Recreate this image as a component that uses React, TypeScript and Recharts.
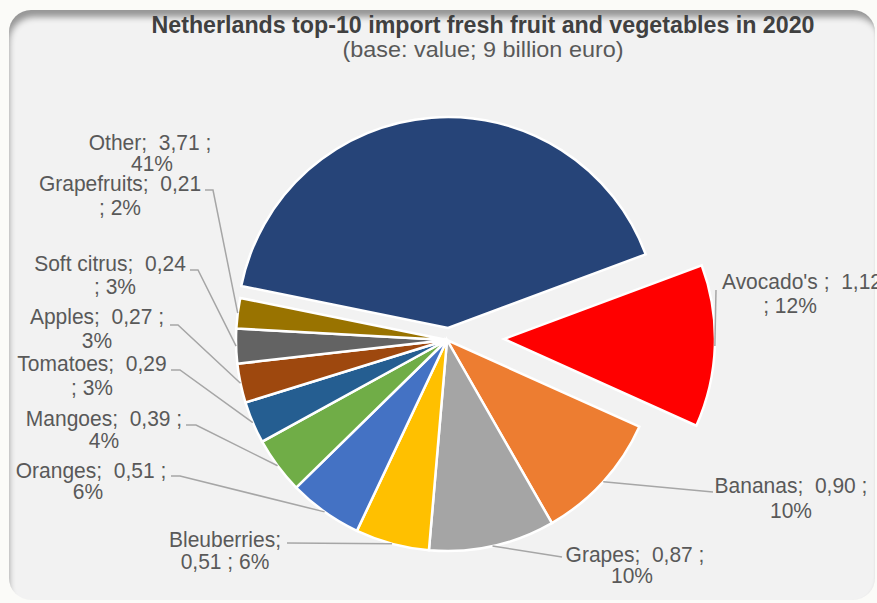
import { Cell, Pie, PieChart } from "recharts";

const names = [
  "Other",
  "Avocado's",
  "Bananas",
  "Grapes",
  "Bleuberries",
  "Oranges",
  "Mangoes",
  "Tomatoes",
  "Apples",
  "Soft citrus",
  "Grapefruits",
];
const values = [3.71, 1.12, 0.9, 0.87, 0.51, 0.51, 0.39, 0.29, 0.27, 0.24, 0.21];
const colors = [
  "#264478",
  "#ff0000",
  "#ed7d31",
  "#a5a5a5",
  "#ffc000",
  "#4472c4",
  "#70ad47",
  "#255e91",
  "#9e480e",
  "#636363",
  "#997300",
];

const data = names.map((name, i) => ({ name, value: values[i] }));

// Label placement as in the Excel original (manually dragged labels).
// wrap: where the label text breaks onto its second line
type Wrap = "pct" | "semi" | "value";
const labelLayout: Record<
  string,
  { x: number; y: number; y2: number; x2?: number; wrap: Wrap; lead?: number[][] }
> = {
  Other: { x: 150, y: 150, y2: 171, x2: 152, wrap: "pct" },
  Grapefruits: { x: 120, y: 191, y2: 215, wrap: "semi", lead: [[205, 190], [213, 190]] },
  "Soft citrus": { x: 110, y: 271, y2: 294, x2: 115, wrap: "semi", lead: [[190, 270], [198, 270]] },
  Apples: { x: 97, y: 324, y2: 348, wrap: "pct", lead: [[170, 325], [178, 325]] },
  Tomatoes: { x: 92, y: 371, y2: 395, wrap: "semi", lead: [[171, 370], [180, 370]] },
  Mangoes: { x: 104, y: 426, y2: 448, wrap: "pct", lead: [[186, 425], [196, 425]] },
  Oranges: { x: 91, y: 478, y2: 499, x2: 88, wrap: "pct", lead: [[171, 476], [180, 476]] },
  Bleuberries: { x: 225, y: 547, y2: 569, wrap: "value", lead: [[287, 543]] },
  Grapes: { x: 635, y: 562, y2: 583, x2: 632, wrap: "pct", lead: [[562, 557]] },
  Bananas: { x: 791, y: 493, y2: 518, wrap: "pct", lead: [[713, 492]] },
  "Avocado's": { x: 802, y: 289, y2: 313, x2: 790, wrap: "semi", lead: [[716, 290]] },
};

const fmt = (v: number) => v.toFixed(2).replace(".", ",");
const FONT = "'Liberation Sans', Arial, sans-serif";
const RAD = Math.PI / 180;

function makeLabel(show: string[]) {
  return (p: any) => {
    const name: string = p.name ?? p.payload?.name;
    if (!show.includes(name)) return null;
    const L = labelLayout[name];
    const pct = `${Math.round(p.percent * 100)}%`;
    const sep = name === "Avocado's" ? " ;" : ";";
    let l1 = "";
    let l2 = "";
    if (L.wrap === "pct") {
      l1 = `${name}${sep}  ${fmt(p.value)} ;`;
      l2 = pct;
    } else if (L.wrap === "semi") {
      l1 = `${name}${sep}  ${fmt(p.value)}`;
      l2 = `; ${pct}`;
    } else {
      l1 = `${name}${sep}`;
      l2 = `${fmt(p.value)} ; ${pct}`;
    }
    const ex = p.cx + p.outerRadius * Math.cos(-p.midAngle * RAD);
    const ey = p.cy + p.outerRadius * Math.sin(-p.midAngle * RAD);
    const pts = L.lead ? [...L.lead, [ex, ey]] : null;
    return (
      <g key={`lbl-${name}`}>
        {pts && (
          <polyline
            points={pts.map((q) => q.join(",")).join(" ")}
            fill="none"
            stroke="#a6a6a6"
            strokeWidth={1.5}
          />
        )}
        <text
          transform={`translate(${L.x},${L.y}) scale(1,1.08)`}
          textAnchor="middle"
          fontFamily={FONT}
          fontSize={21}
          fill="#595959"
          style={{ whiteSpace: "pre" }}
        >
          {l1}
        </text>
        <text
          transform={`translate(${L.x2 ?? L.x},${L.y2}) scale(1,1.08)`}
          textAnchor="middle"
          fontFamily={FONT}
          fontSize={21}
          fill="#595959"
          style={{ whiteSpace: "pre" }}
        >
          {l2}
        </text>
      </g>
    );
  };
}

const mainSet = names.filter((n) => n !== "Other" && n !== "Avocado's");

function Slices({ show }: { show: string[] }) {
  return (
    <>
      {data.map((d, i) =>
        show.includes(d.name) ? (
          <Cell key={d.name} fill={colors[i]} stroke="#ffffff" strokeWidth={2.5} />
        ) : (
          <Cell key={d.name} fill="none" stroke="none" />
        ),
      )}
    </>
  );
}

export default function App() {
  const common = {
    data,
    dataKey: "value",
    nameKey: "name",
    startAngle: 168.5,
    endAngle: -191.5,
    outerRadius: 211,
    labelLine: false,
    isAnimationActive: false,
  };
  return (
    <div
      style={{
        position: "absolute",
        left: 0,
        top: 0,
        width: 877,
        height: 603,
        background: "#fbfbf8",
        overflow: "hidden",
      }}
    >
      <div
        style={{
          position: "absolute",
          left: 9,
          top: 10,
          width: 866,
          height: 590,
          background: "#f2f2f2",
          borderRadius: 22,
          boxShadow:
            "inset 3px 10px 6px -3px rgba(0,0,0,0.38), inset -2px 0 3px -2px rgba(0,0,0,0.08)",
        }}
      />
      <div style={{ position: "absolute", left: 0, top: 0 }}>
        <PieChart width={877} height={603} margin={{ top: 0, right: 0, bottom: 0, left: 0 }}>
          <Pie {...common} cx={447} cy={340} label={makeLabel(mainSet)}>
            {Slices({ show: mainSet })}
          </Pie>
          <Pie {...common} cx={448} cy={328} label={makeLabel(["Other"])}>
            {Slices({ show: ["Other"] })}
          </Pie>
          <Pie {...common} cx={504} cy={339} label={makeLabel(["Avocado's"])}>
            {Slices({ show: ["Avocado's"] })}
          </Pie>
        </PieChart>
      </div>
      <svg
        width={877}
        height={80}
        style={{ position: "absolute", left: 0, top: 0, pointerEvents: "none" }}
      >
        <text
          transform="translate(483,33) scale(1,1.15)"
          textAnchor="middle"
          fontFamily={FONT}
          fontWeight="bold"
          fontSize={20}
          fill="#404040"
          textLength={663}
          lengthAdjust="spacingAndGlyphs"
        >
          Netherlands top-10 import fresh fruit and vegetables in 2020
        </text>
        <text
          transform="translate(483,57) scale(1,1.2)"
          textAnchor="middle"
          fontFamily={FONT}
          fontSize={18}
          fill="#595959"
          textLength={281}
          lengthAdjust="spacingAndGlyphs"
        >
          (base: value; 9 billion euro)
        </text>
      </svg>
    </div>
  );
}
